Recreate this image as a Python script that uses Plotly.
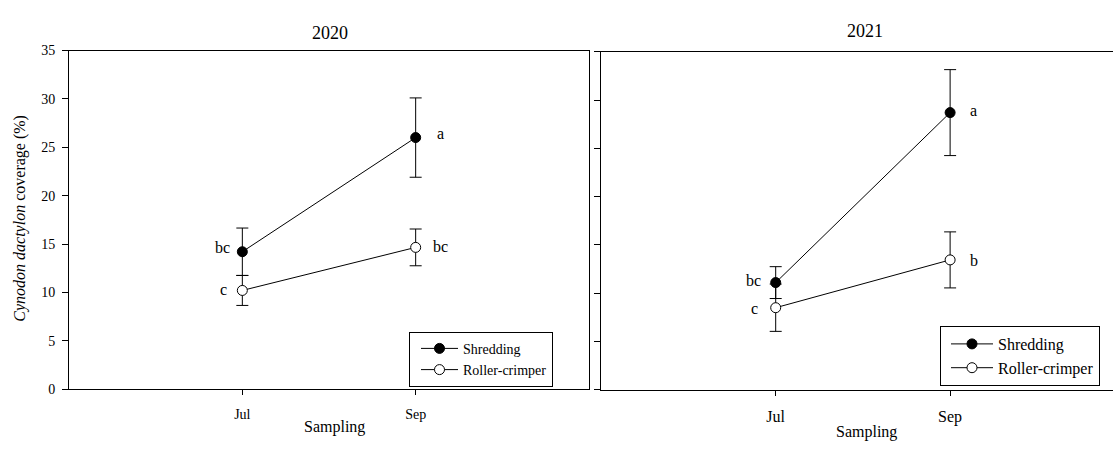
import plotly.graph_objects as go

months = ["Jul", "Sep"]

shred_2020 = [14.2, 26.0]
shred_2020_err = [2.45, 4.1]
roller_2020 = [10.2, 14.65]
roller_2020_err = [1.55, 1.9]

shred_2021 = [11.1, 28.7]
shred_2021_err = [1.65, 4.45]
roller_2021 = [8.5, 13.45]
roller_2021_err = [2.45, 2.9]

letters_shred_2020 = ["bc", "a"]
letters_roller_2020 = ["c", "bc"]
letters_shred_2021 = ["bc", "a"]
letters_roller_2021 = ["c", "b"]

yticks = [0, 5, 10, 15, 20, 25, 30, 35]

FONT = "Liberation Serif"
W, H = 1113, 450

fig = go.Figure()


def add_series(x, y, err, name, filled, xa, ya, legend):
    fig.add_trace(go.Scatter(
        x=x, y=y, name=name, mode="lines+markers",
        xaxis=xa, yaxis=ya, legend=legend,
        line=dict(color="black", width=1),
        marker=dict(size=10, symbol="circle",
                    color="black" if filled else "white",
                    line=dict(color="black", width=1)),
        error_y=dict(type="data", array=err, visible=True,
                     color="black", thickness=1, width=6),
    ))


add_series(months, shred_2020, shred_2020_err, "Shredding", True, "x", "y", "legend")
add_series(months, roller_2020, roller_2020_err, "Roller-crimper", False, "x", "y", "legend")
add_series(months, shred_2021, shred_2021_err, "Shredding", True, "x2", "y2", "legend2")
add_series(months, roller_2021, roller_2021_err, "Roller-crimper", False, "x2", "y2", "legend2")

annotations = []


def add_letters(vals, letters, xref, yref, shift_left, shift_right, dy):
    for i, (m, v, t) in enumerate(zip(months, vals, letters)):
        annotations.append(dict(
            x=m, y=v, xref=xref, yref=yref, text=t, showarrow=False,
            xanchor="center", yanchor="middle",
            xshift=shift_left if i == 0 else shift_right, yshift=dy,
            font=dict(family=FONT, size=16, color="black"),
        ))


add_letters(shred_2020, letters_shred_2020, "x", "y", -20, 25, 4)
add_letters(roller_2020, letters_roller_2020, "x", "y", -19, 25, 1)
add_letters(shred_2021, letters_shred_2021, "x2", "y2", -22, 23, 2)
add_letters(roller_2021, letters_roller_2021, "x2", "y2", -21, 24, -1)


def paper_text(text, px, py, size, angle=0):
    return dict(text=text, x=px / W, y=1 - py / H, xref="paper", yref="paper",
                xanchor="center", yanchor="middle", textangle=angle,
                showarrow=False, font=dict(family=FONT, size=size, color="black"))


annotations += [
    paper_text("2020", 330, 27, 18),
    paper_text("2021", 865, 25, 18),
    paper_text("Sampling", 334, 434, 16),
    paper_text("Sampling", 866, 440, 16),
    paper_text("<i>Cynodon dactylon</i> coverage (%)", 20, 219, 16, -90),
]

axis_common = dict(showline=True, linecolor="black", linewidth=1,
                   showgrid=False, zeroline=False, ticks="outside",
                   tickcolor="black", tickwidth=1, color="black")

fig.update_layout(
    width=W, height=H,
    margin=dict(l=0, r=0, t=0, b=0),
    paper_bgcolor="white", plot_bgcolor="white",
    font=dict(family=FONT, color="black"),
    xaxis=dict(**axis_common, domain=[69 / W, 589 / W], type="category",
               categoryorder="array", categoryarray=months,
               range=[-1, 2], mirror=True, ticklen=5, ticklabelstandoff=7,
               tickfont=dict(family=FONT, size=14, color="black"), anchor="y"),
    yaxis=dict(**axis_common, domain=[1 - 395.3 / H, 1 - 45 / H], range=[0, 35],
               tickvals=yticks, mirror=True, ticklen=6, ticklabelstandoff=4,
               tickfont=dict(family=FONT, size=14, color="black"), anchor="x"),
    xaxis2=dict(**axis_common, domain=[601.3 / W, 1], type="category",
                categoryorder="array", categoryarray=months,
                range=[-1, 1.934], mirror=True, ticklen=5, ticklabelstandoff=7,
                tickfont=dict(family=FONT, size=16, color="black"), anchor="y2"),
    yaxis2=dict(**axis_common, domain=[1 - 396 / H, 1 - 46.3 / H], range=[0, 35],
                tickvals=yticks, showticklabels=False, ticklen=6, anchor="x2"),
    legend=dict(x=409 / W, y=1 - 336 / H, xanchor="left", yanchor="top",
                bordercolor="black", borderwidth=1, bgcolor="white",
                font=dict(family=FONT, size=14, color="black"),
                tracegroupgap=0, indentation=6, itemwidth=37),
    legend2=dict(x=940 / W, y=1 - 330 / H, xanchor="left", yanchor="top",
                 bordercolor="black", borderwidth=1, bgcolor="white",
                 font=dict(family=FONT, size=16, color="black"),
                 tracegroupgap=0, indentation=5, itemwidth=42),
    annotations=annotations,
    showlegend=True,
)

fig.write_html("out.html")
